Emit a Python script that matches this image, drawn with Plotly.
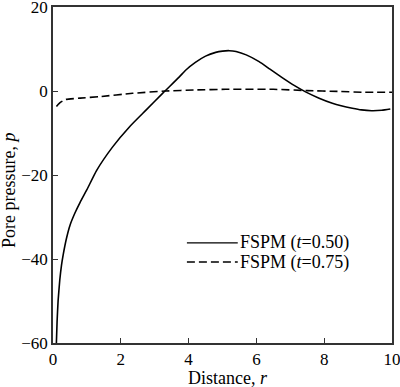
import plotly.graph_objects as go

# Solid curve: FSPM (t=0.50)
r_050 = [0.1, 0.12, 0.15, 0.2, 0.25, 0.3, 0.4, 0.5, 0.65, 0.8, 1.0, 1.28, 1.76, 2.26, 2.75, 3.24, 3.72, 3.92, 4.2, 4.5, 4.8, 5.0, 5.2, 5.4, 5.7, 6.08, 6.4, 6.76, 7.1, 7.45, 7.85, 8.24, 8.5, 8.83, 9.1, 9.4, 9.7, 9.95]
p_050 = [-60.0, -55.0, -50.0, -45.0, -41.5, -39.0, -35.0, -32.0, -29.0, -26.5, -23.5, -19.0, -13.3, -8.5, -4.5, -0.5, 3.3, 5.0, 6.8, 8.3, 9.2, 9.5, 9.6, 9.4, 8.6, 7.0, 5.2, 3.2, 1.4, -0.2, -1.7, -2.9, -3.5, -4.1, -4.5, -4.7, -4.6, -4.3]

# Dashed curve: FSPM (t=0.75)
r_075 = [0.1, 0.15, 0.2, 0.3, 0.39, 0.8, 1.37, 2.35, 3.33, 4.2, 5.1, 6.5, 7.5, 8.4, 9.2, 10.0]
p_075 = [-3.7, -3.2, -2.8, -2.3, -2.0, -1.7, -1.35, -0.55, 0.0, 0.25, 0.4, 0.4, 0.1, -0.1, -0.3, -0.3]

legend_labels = ["FSPM (<i>t</i>=0.50)", "FSPM (<i>t</i>=0.75)"]
x_title = "Distance, <i>r</i>"
y_title = "Pore pressure, <i>p</i>"
x_ticks = [0, 2, 4, 6, 8, 10]
y_ticks = [-60, -40, -20, 0, 20]

font = "Liberation Serif"

fig = go.Figure()
fig.add_trace(go.Scatter(x=r_050, y=p_050, mode="lines", line=dict(color="black", width=1.6, shape="spline", smoothing=0.5), showlegend=False))
fig.add_trace(go.Scatter(x=r_075, y=p_075, mode="lines", line=dict(color="black", width=1.6, dash="8px,4px", shape="spline", smoothing=0.5), showlegend=False))

# Custom legend
leg_y = [0.298, 0.241]
dashes = ["solid", "8px,4px"]
for lab, yy, d in zip(legend_labels, leg_y, dashes):
    fig.add_shape(type="line", xref="paper", yref="paper", x0=0.395, x1=0.545, y0=yy, y1=yy,
                  line=dict(color="black", width=1.4, dash=d))
    fig.add_annotation(xref="paper", yref="paper", x=0.545, y=yy, text=lab, showarrow=False,
                       xanchor="left", yanchor="middle", font=dict(family=font, size=18, color="black"))

# Axis titles
fig.add_annotation(xref="paper", yref="paper", x=0.515, y=-0.103, text=x_title, showarrow=False,
                   xanchor="center", yanchor="middle", font=dict(family=font, size=18, color="black"))
fig.add_annotation(xref="paper", yref="paper", x=-0.13, y=0.455, text=y_title, showarrow=False, textangle=-90,
                   xanchor="center", yanchor="middle", font=dict(family=font, size=18, color="black"))

axis_common = dict(showgrid=False, zeroline=False, showline=True, mirror=True, linecolor="#333",
                   linewidth=1.5, ticks="inside", ticklen=5, tickwidth=1, tickcolor="#333", automargin=False,
                   ticklabeloverflow="allow", tickfont=dict(family=font, size=17, color="black"))
fig.update_xaxes(range=[0, 10], tickvals=x_ticks, ticklabelstandoff=0, **axis_common)
fig.update_yaxes(range=[-60, 20], tickvals=y_ticks, ticklabelstandoff=0, **axis_common)

fig.update_layout(width=400, height=387, margin=dict(l=53, r=8, t=7, b=44),
                  plot_bgcolor="white", paper_bgcolor="white")
fig.write_html("out.html", config={"displayModeBar": False},
               post_script="document.body.style.margin='0';document.body.style.padding='0';")
